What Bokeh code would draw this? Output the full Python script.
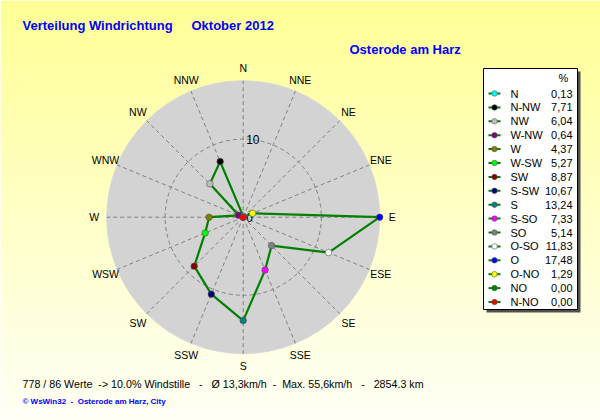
import numpy as np
from bokeh.plotting import figure
from bokeh.models import Range1d, Label
from bokeh.core.properties import value
from bokeh.embed import file_html
from bokeh.resources import INLINE

# ---------------- data ----------------
directions = ["N", "N-NW", "NW", "W-NW", "W", "W-SW", "SW", "S-SW",
              "S", "S-SO", "SO", "O-SO", "O", "O-NO", "NO", "N-NO"]
values = [0.13, 7.71, 6.04, 0.64, 4.37, 5.27, 8.87, 10.67,
          13.24, 7.33, 5.14, 11.83, 17.48, 1.29, 0.00, 0.00]
bearings = [0, 337.5, 315, 292.5, 270, 247.5, 225, 202.5,
            180, 157.5, 135, 112.5, 90, 67.5, 45, 22.5]
colors = ["#00FFFF", "#000000", "#C0C0C0", "#800080", "#808000", "#00FF00",
          "#800000", "#000080", "#008080", "#FF00FF", "#808080", "#FFFFFF",
          "#0000FF", "#FFFF00", "#008000", "#FF0000"]
compass_labels = ["N", "NNE", "NE", "ENE", "E", "ESE", "SE", "SSE",
                  "S", "SSW", "SW", "WSW", "W", "WNW", "NW", "NNW"]
compass_bearings = [i * 22.5 for i in range(16)]
ring_values = [10]
ring_labels = ["10"]

title_left = "Verteilung Windrichtung"
title_right = "Oktober 2012"
subtitle = "Osterode am Harz"
footer1 = ("778 / 86 Werte \u00a0-> 10.0% Windstille \u00a0 - \u00a0 \u00d8 13,3km/h \u00a0- \u00a0"
           "Max. 55,6km/h \u00a0 - \u00a0 2854.3 km")
footer2 = "\u00a9 WsWin32 \u00a0- \u00a0Osterode am Harz, City"

# ---------------- layout ----------------
W, H = 600, 420
OFF = 0
CX, CY = 242.7 - OFF, 216.7 - OFF          # polar centre in figure pixels (from top-left)
RMAX = max(values)
PX = 136.5 / RMAX                          # pixels per percent

p = figure(width=W, height=H, output_backend="svg", toolbar_location=None,
           x_range=Range1d(-CX / PX, (W - CX) / PX),
           y_range=Range1d(-(H - CY) / PX, CY / PX),
           x_axis_type=None, y_axis_type=None, min_border=0)
p.outline_line_color = None
p.grid.visible = False
p.background_fill_color = "#FFFFFF"
p.border_fill_color = "#FFFFFF"

def sx(X):
    return (X - OFF - CX) / PX

def sy(Y):
    return (CY - (Y - OFF)) / PX

# background gradient (yellow -> near white)
rows = np.arange(H)
ytop = (H - 1 - rows) + OFF                       # reference y of each image row
t = ytop / 420.0
img = np.zeros((H, 1), dtype=np.uint32)
view = img.view(dtype=np.uint8).reshape((H, 1, 4))
view[:, 0, 0] = 255
view[:, 0, 1] = 255
view[:, 0, 2] = (150 + (246 - 150) * t).astype(np.uint8)
view[:, 0, 3] = 255
x0, x1 = p.x_range.start, p.x_range.end
y0, y1 = p.y_range.start, p.y_range.end
p.image_rgba(image=[img], x=x0, y=y0, dw=x1 - x0, dh=y1 - y0)

# polar background disc
p.circle(x=[0], y=[0], radius=RMAX, fill_color="#D3D3D3", line_color="#D8D8D8", line_width=1)

# spokes
cb = np.radians(compass_bearings)
p.segment(x0=[0] * 16, y0=[0] * 16, x1=list(RMAX * np.sin(cb)), y1=list(RMAX * np.cos(cb)),
          line_color="#808080", line_width=1, line_dash="4 3")
# rings
p.circle(x=[0] * len(ring_values), y=[0] * len(ring_values), radius=ring_values,
         fill_color=None, line_color="#808080", line_width=1, line_dash="4 3")

# compass labels
lab_r = RMAX + 12.5 / PX
p.text(x=list(lab_r * np.sin(cb)), y=list(lab_r * np.cos(cb)), text=compass_labels,
       text_font=value("Liberation Sans"), text_font_size="10.5px", text_color="#000000",
       text_align="center", text_baseline="middle")

# ring labels
p.text(x=[0] * len(ring_values), y=ring_values, text=ring_labels, x_offset=3,
       text_font=value("Liberation Sans"), text_font_size="12px", text_color="#000000",
       text_align="left", text_baseline="middle")
p.text(x=[0], y=[0], text=["0"], x_offset=3,
       text_font=value("Liberation Sans"), text_font_size="12px", text_color="#000000",
       text_align="left", text_baseline="middle")

# data polygon
b = np.radians(bearings)
xs = list(np.array(values) * np.sin(b))
ys = list(np.array(values) * np.cos(b))
p.line(x=xs + [xs[0]], y=ys + [ys[0]], line_color="#008000", line_width=2.2)
p.scatter(x=xs, y=ys, size=6.5, fill_color=colors, line_color="#505050", line_width=0.6)

# ---------------- legend ----------------
LX0, LY0, LX1, LY1 = 483, 68, 577, 309
SH = 3
p.quad(left=[sx(LX0 + SH)], right=[sx(LX1 + SH)], top=[sy(LY0 + SH)], bottom=[sy(LY1 + SH)],
       fill_color="#505050", line_color=None)
p.quad(left=[sx(LX0)], right=[sx(LX1)], top=[sy(LY0)], bottom=[sy(LY1)],
       fill_color="#FFFFFF", line_color="#000000", line_width=1)

ROW0, DROW = 93, 13.9
row_y = [ROW0 + i * DROW for i in range(len(directions))]
p.segment(x0=[sx(488)] * len(row_y), y0=[sy(y) for y in row_y],
          x1=[sx(500)] * len(row_y), y1=[sy(y) for y in row_y],
          line_color="#008000", line_width=2)
p.scatter(x=[sx(494)] * len(row_y), y=[sy(y) for y in row_y], size=5.5,
          fill_color=colors, line_color="#505050", line_width=0.6)

def add_label(text, X, Y, size="11px", color="#000000", align="left", bold=False):
    p.add_layout(Label(x=X - OFF, y=H - (Y - OFF), x_units="screen", y_units="screen",
                       text=text, text_font="Liberation Sans", text_font_size=size,
                       text_color=color, text_align=align, text_baseline="middle",
                       text_font_style="bold" if bold else "normal"))

add_label("%", 558, 77)
for name, v, y in zip(directions, values, row_y):
    add_label(name, 510, y)
    add_label(f"{v:.2f}".replace(".", ","), 572, y, align="right")

# ---------------- titles & footer ----------------
add_label(title_left, 22, 25, size="13px", color="#0000FF", bold=True)
add_label(title_right, 191, 25, size="13px", color="#0000FF", bold=True)
add_label(subtitle, 349, 49, size="13px", color="#0000FF", bold=True)
add_label(footer1, 22, 383, size="10.7px")
add_label(footer2, 22, 401, size="8px", color="#0000FF", bold=True)

open("out.html", "w").write(file_html(p, INLINE))
